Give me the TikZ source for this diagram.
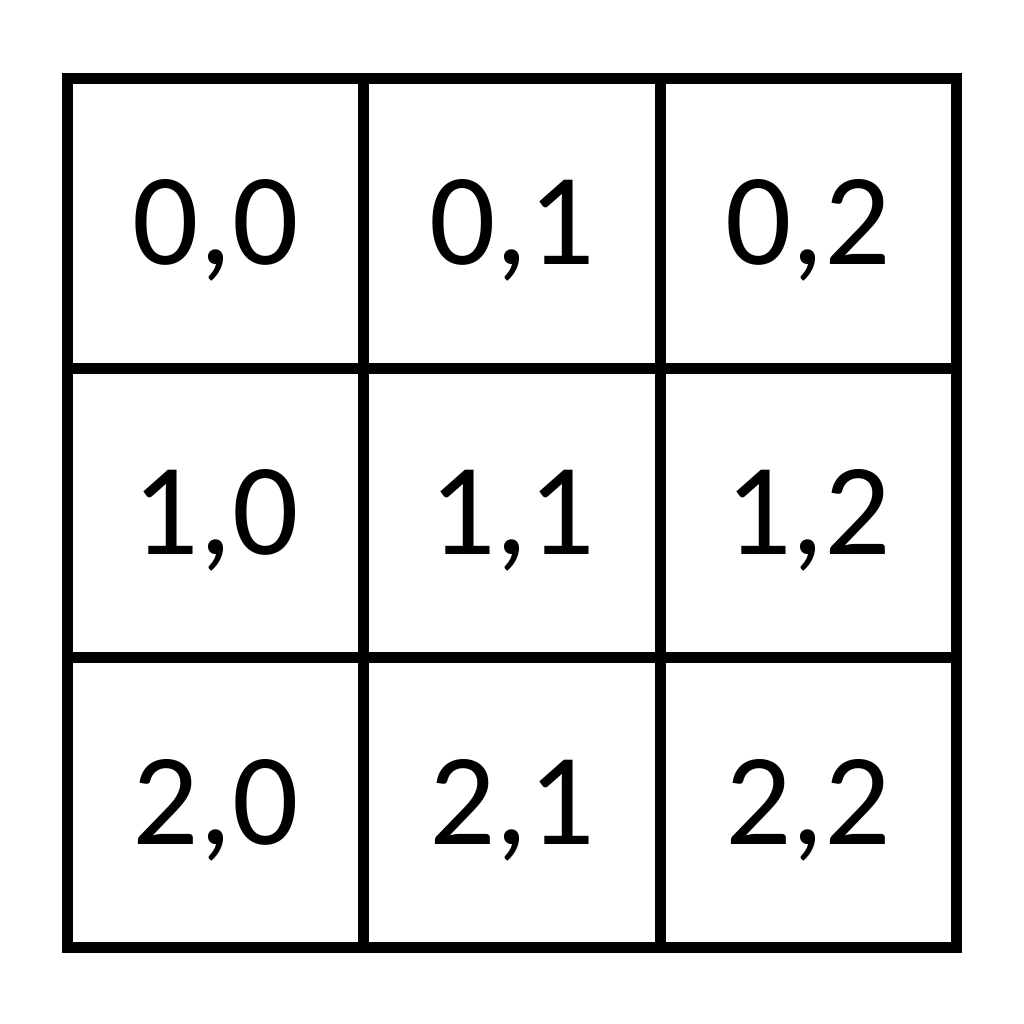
\documentclass[tikz,border=0pt]{standalone}
\usepackage{fontspec}
\setmainfont{Carlito}
\begin{document}
\begin{tikzpicture}[x=1pt,y=-1pt,
  cell/.style={draw=black, line width=11pt, rectangle, inner sep=0pt, outer sep=0pt,
    minimum width=296.3pt, minimum height=289.7pt,
    font=\fontsize{131}{150}\selectfont, text height=83pt, text depth=0pt}]
\useasboundingbox (0,0) rectangle (1024,1024);
\fill[white] (0,0) rectangle (1024,1024);
\node[cell] (c00) at (215.65,223.35) {0,0};
\node[cell] (c01) at (511.95,223.35) {0,1};
\node[cell] (c02) at (808.25,223.35) {0,2};
\node[cell] (c10) at (215.65,513.05) {1,0};
\node[cell] (c11) at (511.95,513.05) {1,1};
\node[cell] (c12) at (808.25,513.05) {1,2};
\node[cell] (c20) at (215.65,802.75) {2,0};
\node[cell] (c21) at (511.95,802.75) {2,1};
\node[cell] (c22) at (808.25,802.75) {2,2};
\end{tikzpicture}
\end{document}
